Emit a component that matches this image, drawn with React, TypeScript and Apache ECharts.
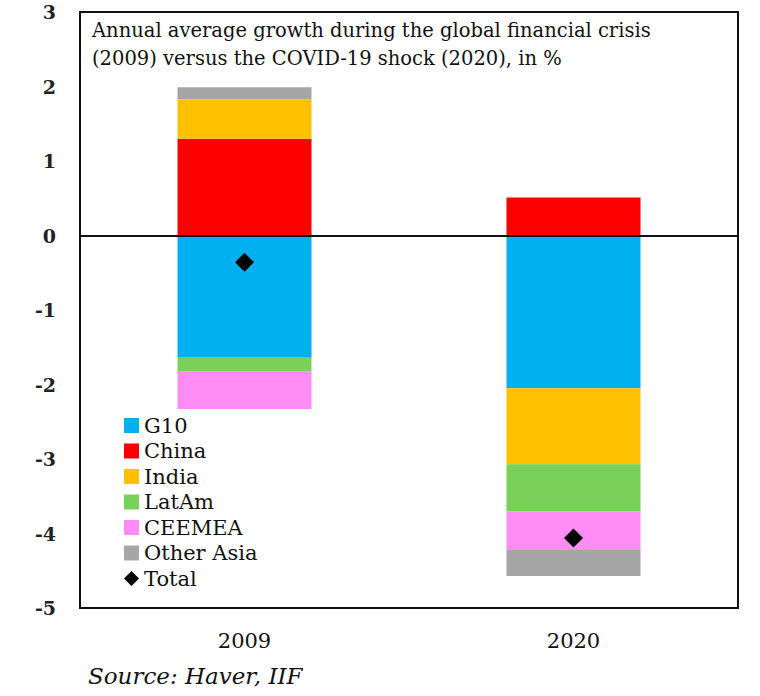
import React, { useEffect, useRef } from "react";
import * as echarts from "echarts";

const categories = ["2009", "2020"];
const g10 = [-1.64, -2.05];
const china = [1.3, 0.51];
const india = [0.53, -1.02];
const latam = [-0.19, -0.63];
const ceemea = [-0.5, -0.52];
const otherAsia = [0.16, -0.35];
const total = [-0.36, -4.06];

const FONT = "DejaVu Serif";

export default function App() {
  const ref = useRef<HTMLDivElement>(null);
  useEffect(() => {
    if (!ref.current) return;
    const chart = echarts.init(ref.current, null, { renderer: "svg" });
    const bar = (name: string, data: number[], color: string) => ({
      name,
      type: "bar",
      stack: "total",
      data,
      barWidth: 134,
      itemStyle: { color },
    });
    chart.setOption({
      animation: false,
      backgroundColor: "#ffffff",
      grid: {
        left: 80,
        right: 22,
        top: 12,
        bottom: 88,
        show: true,
        borderColor: "#111",
        borderWidth: 2,
        backgroundColor: "transparent",
      },
      legend: {
        orient: "vertical",
        left: 119,
        top: 410,
        itemWidth: 15,
        itemHeight: 15,
        itemGap: 4.5,
        textStyle: { fontFamily: FONT, fontSize: 21, color: "#111" },
        data: [
          { name: "G10", icon: "rect" },
          { name: "China", icon: "rect" },
          { name: "India", icon: "rect" },
          { name: "LatAm", icon: "rect" },
          { name: "CEEMEA", icon: "rect" },
          { name: "Other Asia", icon: "rect" },
          { name: "Total", icon: "diamond" },
        ],
      },
      xAxis: {
        type: "category",
        data: categories,
        axisLine: { show: false, onZero: false },
        axisTick: { show: false },
        axisLabel: {
          margin: 22,
          fontFamily: FONT,
          fontSize: 21,
          color: "#111",
        },
      },
      yAxis: {
        type: "value",
        min: -5,
        max: 3,
        interval: 1,
        splitLine: { show: false },
        axisLine: { show: false },
        axisTick: { show: false },
        axisLabel: {
          margin: 24,
          fontFamily: FONT,
          fontSize: 19,
          fontWeight: "bold",
          color: "#222",
        },
      },
      graphic: [
        {
          type: "text",
          left: 92,
          top: 16,
          style: {
            text:
              "Annual average growth during the global financial crisis\n(2009) versus the COVID-19 shock (2020), in %",
            fontFamily: FONT,
            fontSize: 19.5,
            lineHeight: 28,
            fill: "#111",
          },
        },
        {
          type: "text",
          left: 88,
          top: 664,
          style: {
            text: "Source: Haver, IIF",
            fontFamily: FONT,
            fontStyle: "italic",
            fontSize: 23,
            fill: "#111",
          },
        },
      ],
      series: [
        bar("G10", g10, "#00B0F0"),
        bar("China", china, "#FF0000"),
        bar("India", india, "#FFC000"),
        bar("LatAm", latam, "#7AD15A"),
        bar("CEEMEA", ceemea, "#FF8CF5"),
        bar("Other Asia", otherAsia, "#A6A6A6"),
        {
          name: "Total",
          type: "scatter",
          data: total,
          symbol: "diamond",
          symbolSize: 19,
          itemStyle: { color: "#000", opacity: 1 },
          z: 5,
          markLine: {
            silent: true,
            symbol: "none",
            label: { show: false },
            lineStyle: { color: "#111", width: 2, type: "solid" },
            data: [{ yAxis: 0 }],
          },
        },
      ],
    });
    return () => chart.dispose();
  }, []);
  return (
    <div
      ref={ref}
      style={{ position: "fixed", left: 0, top: 0, width: 760, height: 696 }}
    />
  );
}
